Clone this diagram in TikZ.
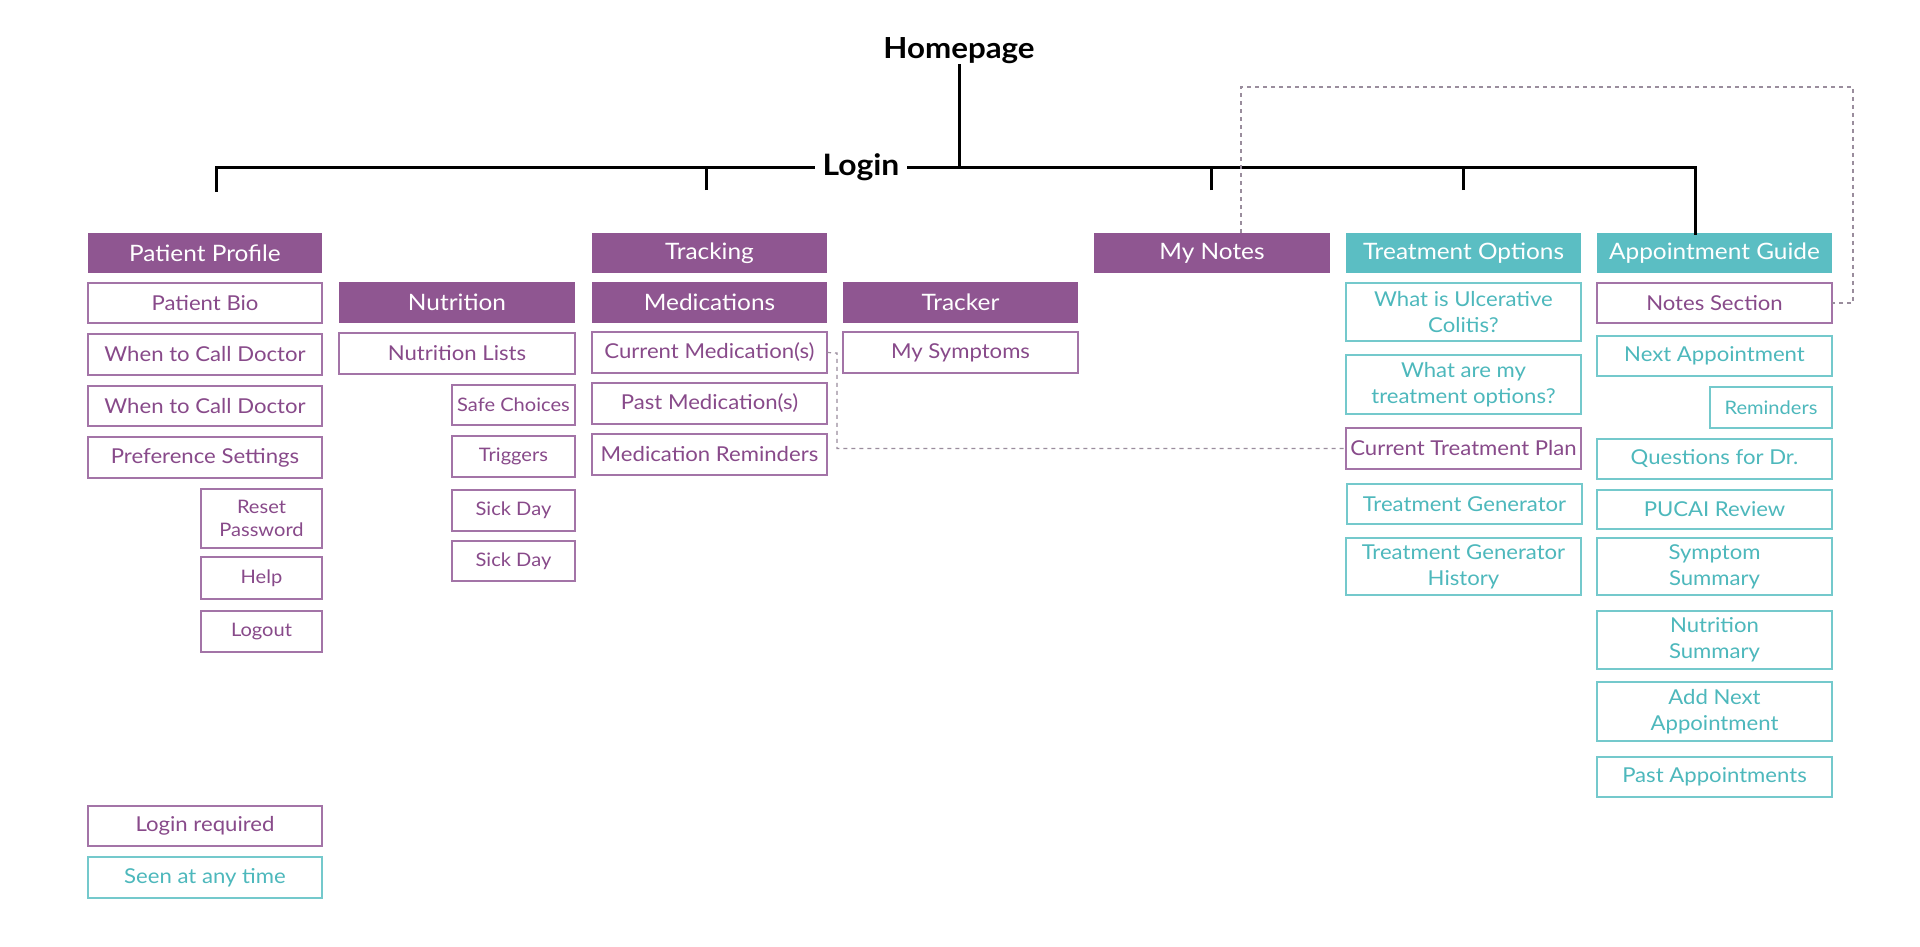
\documentclass[tikz,border=0pt]{standalone}
\usepackage{fontspec}
\setmainfont{Lato}[FakeStretch=1.08]
\usetikzlibrary{calc}
\definecolor{pfill}{HTML}{8F5691}
\definecolor{tfill}{HTML}{5BBEC3}
\definecolor{ptext}{HTML}{884A8A}
\definecolor{pline}{HTML}{A374A7}
\definecolor{ttext}{HTML}{4DB8BC}
\definecolor{tline}{HTML}{74C9CC}
\definecolor{dashc}{HTML}{9A8D9D}
\newcommand\bx[7]{\node[#6,minimum width={(#4)-(#2)},minimum height={(#5)-(#3)}] (#1) at ({((#2)+(#4))/2},{((#3)+(#5))/2}) {#7};}
\begin{document}
\begin{tikzpicture}[x=1pt,y=-1pt,
  base/.style={inner sep=0pt,outer sep=0pt,align=center,anchor=center},
  phead/.style={base,fill=pfill,text=white,font=\fontsize{22.6}{26}\selectfont},
  thead/.style={base,fill=tfill,text=white,font=\fontsize{22.6}{26}\selectfont},
  pbox/.style={base,draw=pline,line width=1.5pt,text=ptext,font=\fontsize{20.5}{26}\selectfont},
  tbox/.style={base,draw=tline,line width=1.5pt,text=ttext,font=\fontsize{20.5}{26}\selectfont},
  psmall/.style={pbox,font=\fontsize{18.6}{23.5}\selectfont},
  tsmall/.style={tbox,font=\fontsize{18.6}{23.5}\selectfont},
  tree/.style={line width=3pt,black},
  link/.style={draw=dashc,line width=1.2pt,dash pattern=on 4pt off 4pt}
]
\fill[white] (0,0) rectangle (1920,947);
\useasboundingbox (0,0) rectangle (1920,947);

% top
\node[base,font=\bfseries\fontsize{29}{32}\selectfont] (home) at (959,51) {Homepage};
\node[base,inner xsep=9pt,font=\bfseries\fontsize{29.5}{32}\selectfont] (login) at (861,167) {Login};
\coordinate (hl) at (216,168);
\coordinate (hj) at (959,168);
\coordinate (hr) at (1695,168);
\coordinate (dr1) at (216,190);
\coordinate (dr3) at (706,190);
\coordinate (dr5) at (1211,190);
\coordinate (dr6) at (1463,190);

% column 1
\bx{pp}{88}{233}{322}{273}{phead}{Patient Profile}
\bx{bio}{88}{283}{322}{323}{pbox}{Patient Bio}
\bx{wtcd}{88}{334}{322}{375}{pbox}{When to Call Doctor}
\bx{wtcdb}{88}{386}{322}{426}{pbox}{When to Call Doctor}
\bx{pref}{88}{437}{322}{478}{pbox}{Preference Settings}
\bx{reset}{201}{489}{322}{548}{psmall}{Reset\\Password}
\bx{help}{201}{557}{322}{599}{psmall}{Help}
\bx{logout}{201}{611}{322}{652}{psmall}{Logout}

% column 2
\bx{nut}{339}{282}{575}{323}{phead}{Nutrition}
\bx{nutl}{339}{333}{575}{374}{pbox}{Nutrition Lists}
\bx{safe}{452}{385}{575}{425}{psmall}{Safe Choices}
\bx{trig}{452}{436}{575}{477}{psmall}{Triggers}
\bx{sick}{452}{490}{575}{531}{psmall}{Sick Day}
\bx{sickb}{452}{541}{575}{581}{psmall}{Sick Day}

% column 3
\bx{track}{592}{233}{827}{273}{phead}{Tracking}
\bx{meds}{592}{282}{827}{323}{phead}{Medications}
\bx{curmed}{592}{332}{827}{373}{pbox}{Current Medication(s)}
\bx{pastmed}{592}{383}{827}{424}{pbox}{Past Medication(s)}
\bx{medrem}{592}{434}{827}{475}{pbox}{Medication Reminders}

% column 4
\bx{tracker}{843}{282}{1078}{323}{phead}{Tracker}
\bx{sympt}{843}{332}{1078}{373}{pbox}{My Symptoms}

% column 5
\bx{mynotes}{1094}{233}{1330}{273}{phead}{My Notes}

% column 6
\bx{treat}{1346}{233}{1581}{273}{thead}{Treatment Options}
\bx{whatuc}{1346}{283}{1581}{341}{tbox}{What is Ulcerative\\Colitis?}
\bx{whatare}{1346}{355}{1581}{414}{tbox}{What are my\\treatment options?}
\bx{ctp}{1346}{428}{1581}{469}{pbox}{Current Treatment Plan}
\bx{tgen}{1347}{484}{1582}{524}{tbox}{Treatment Generator}
\bx{tgenh}{1346}{538}{1581}{595}{tbox}{Treatment Generator\\History}

% column 7
\bx{appt}{1597}{233}{1832}{273}{thead}{Appointment Guide}
\bx{notes}{1597}{283}{1832}{323}{pbox}{Notes Section}
\bx{next}{1597}{336}{1832}{376}{tbox}{Next Appointment}
\bx{remind}{1710}{387}{1832}{428}{tsmall}{Reminders}
\bx{quest}{1597}{439}{1832}{479}{tbox}{Questions for Dr.}
\bx{pucai}{1597}{490}{1832}{529}{tbox}{PUCAI Review}
\bx{symsum}{1597}{538}{1832}{595}{tbox}{Symptom\\Summary}
\bx{nutsum}{1597}{611}{1832}{669}{tbox}{Nutrition\\Summary}
\bx{addnext}{1597}{682}{1832}{741}{tbox}{Add Next\\Appointment}
\bx{pastappt}{1597}{757}{1832}{797}{tbox}{Past Appointments}

% legend
\bx{legp}{88}{806}{322}{846}{pbox}{Login required}
\bx{legt}{88}{857}{322}{898}{tbox}{Seen at any time}

% tree connectors
\draw[tree] (home.south) -- (hj);
\draw[tree,line cap=rect] (dr1) -- (hl) -- (hl -| login.west);
\draw[tree,line cap=rect] (login.east |- hr) -- (hr) -- (hr |- appt.north);
\draw[tree] (dr3) -- (dr3 |- hl);
\draw[tree] (dr5) -- (dr5 |- hl);
\draw[tree] (dr6) -- (dr6 |- hl);

% dashed links
\coordinate (da) at (1241,87);
\coordinate (db) at (1853,87);
\draw[link] (da |- mynotes.north) -- (da) -- (db) -- (db |- notes.east) -- (notes.east);
\coordinate (dc) at (837,353);
\draw[link] (curmed.east) -- (dc) -- (dc |- ctp.west) -- (ctp.west);
\end{tikzpicture}
\end{document}
